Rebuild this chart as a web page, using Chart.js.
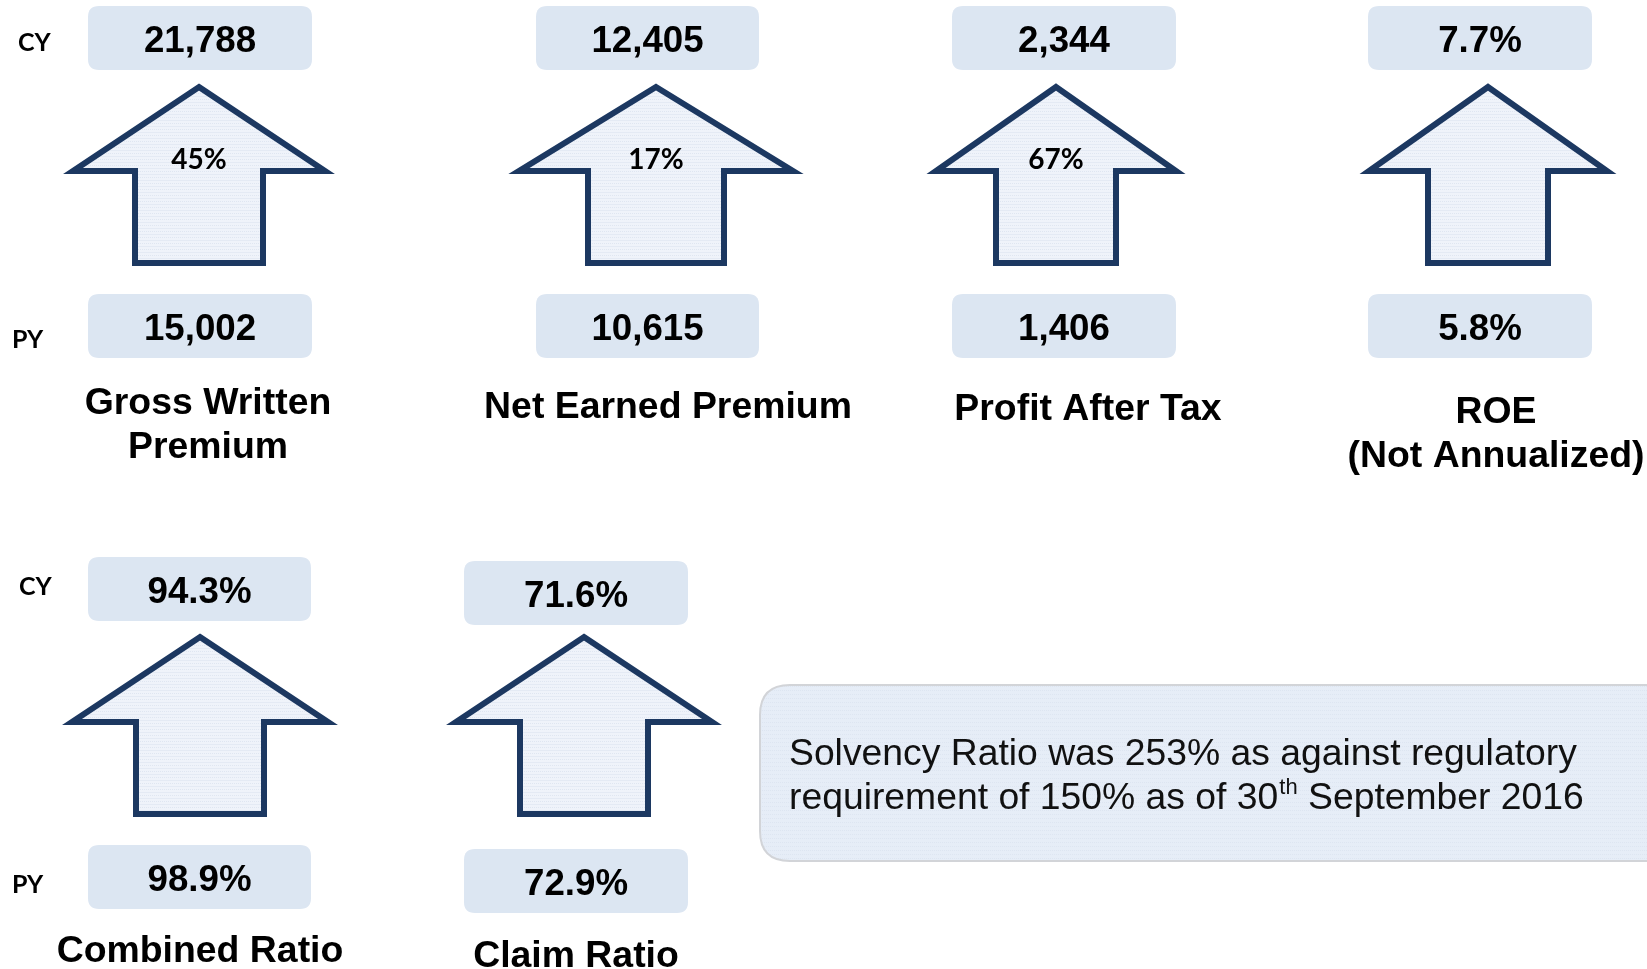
<!DOCTYPE html>
<html><head><meta charset="utf-8">
<script src="https://cdn.jsdelivr.net/npm/chart.js@4/dist/chart.umd.min.js"></script>
<style>html,body{margin:0;padding:0;background:#fff;overflow:hidden}#wrap{width:1647px;height:969px;position:relative}</style>
</head><body><div id="wrap"><canvas id="c" width="1647" height="969"></canvas></div>
<script>
// ---------- DATA ----------
const metrics = ['Gross Written Premium','Net Earned Premium','Profit After Tax','ROE (Not Annualized)','Combined Ratio','Claim Ratio'];
const labelLines = [['Gross Written','Premium'],['Net Earned Premium'],['Profit After Tax'],['ROE','(Not Annualized)'],['Combined Ratio'],['Claim Ratio']];
const cyValues = ['21,788','12,405','2,344','7.7%','94.3%','71.6%'];
const pyValues = ['15,002','10,615','1,406','5.8%','98.9%','72.9%'];
const growthLabels = ['45%','17%','67%','','',''];
const rowLabels = ['CY','PY'];
const noteLine1 = 'Solvency Ratio was 253% as against regulatory';
const noteLine2 = ['requirement of 150% as of 30','th',' September 2016'];

// ---------- LAYOUT (positions/sizes only, in slide units) ----------
const tileLayout = [
  {boxL:88, boxR:312, cyTop:6,   pyTop:294, ax:199, tip:87,  wing:171, bot:263, wh:126, sh:64, pctY:160, lx:208, ly:[404,448], lf:[37.4,37.4]},
  {boxL:536,boxR:759, cyTop:6,   pyTop:294, ax:656, tip:87,  wing:171, bot:263, wh:137, sh:68, pctY:160, lx:668, ly:[408], lf:[37.4]},
  {boxL:952,boxR:1176,cyTop:6,   pyTop:294, ax:1056,tip:87,  wing:171, bot:263, wh:120, sh:60, pctY:160, lx:1088,ly:[410], lf:[37.4]},
  {boxL:1368,boxR:1592,cyTop:6,  pyTop:294, ax:1488,tip:87,  wing:171, bot:263, wh:119, sh:60, pctY:160, lx:1496,ly:[413,457], lf:[37.4,37.4]},
  {boxL:88, boxR:311, cyTop:557, pyTop:845, ax:200, tip:637, wing:722, bot:814, wh:128, sh:64, pctY:710, lx:200, ly:[952], lf:[37.4]},
  {boxL:464,boxR:688, cyTop:561, pyTop:849, ax:584, tip:637, wing:722, bot:814, wh:128, sh:64, pctY:710, lx:576, ly:[957], lf:[37.4]}
];
const rowLabelLayout = [
  {text:0, x:18, y:43},{text:1, x:12, y:340},{text:0, x:19, y:587},{text:1, x:12, y:885}
];
const boxH = 64;
const noteLayout = {l:760, t:685, r:1690, b:861, tx:789, b1:765, b2:809};

// ---------- STYLE ----------
const NAVY = '#1c3861';
const BOXFILL = '#dce6f2';
function makePattern(ctx, base, dot, line, w, h){
  const c = document.createElement('canvas'); c.width=w; c.height=h;
  const g = c.getContext('2d');
  g.fillStyle = base; g.fillRect(0,0,w,h);
  if (line){ g.fillStyle=line; g.fillRect(0,0,w,1); }
  g.fillStyle = dot;
  for (let i=0;i<w;i+=2){ g.fillRect(i,Math.floor(h/2),1,1); }
  return ctx.createPattern(c,'repeat');
}
function rr(ctx,x,y,w,h,r){
  ctx.beginPath();
  ctx.moveTo(x+r,y); ctx.lineTo(x+w-r,y); ctx.quadraticCurveTo(x+w,y,x+w,y+r);
  ctx.lineTo(x+w,y+h-r); ctx.quadraticCurveTo(x+w,y+h,x+w-r,y+h);
  ctx.lineTo(x+r,y+h); ctx.quadraticCurveTo(x,y+h,x,y+h-r);
  ctx.lineTo(x,y+r); ctx.quadraticCurveTo(x,y,x+r,y); ctx.closePath();
}

const infographic = {
  id:'infographic',
  afterDatasetsDraw(chart){
    const ctx = chart.ctx;
    const xs = chart.scales.x, ys = chart.scales.y;
    const X = v => xs.getPixelForValue(v), Y = v => ys.getPixelForValue(v);
    const arrowPat = makePattern(ctx,'#eff3fa','#dfe6f1','#e4eaf4',4,6);
    const notePat = makePattern(ctx,'#e6edf7','#dde5f1',null,4,4);
    ctx.save();
    // note box
    const n = noteLayout;
    rr(ctx, X(n.l), Y(n.t), X(n.r)-X(n.l), Y(n.b)-Y(n.t), 30);
    ctx.fillStyle = notePat; ctx.fill();
    ctx.lineWidth = 2; ctx.strokeStyle = '#d2d4d8'; ctx.stroke();
    ctx.fillStyle = '#111'; ctx.textAlign='left'; ctx.textBaseline='alphabetic';
    const NF = '37.3px "Liberation Sans", Arial, sans-serif';
    ctx.font = NF;
    ctx.fillText(noteLine1, X(n.tx), Y(n.b1));
    let px = X(n.tx);
    ctx.fillText(noteLine2[0], px, Y(n.b2)); px += ctx.measureText(noteLine2[0]).width;
    ctx.font = '22px "Liberation Sans", Arial, sans-serif';
    ctx.fillText(noteLine2[1], px+1, Y(n.b2)-15); px += ctx.measureText(noteLine2[1]).width+1;
    ctx.font = NF;
    ctx.fillText(noteLine2[2], px, Y(n.b2));

    // tiles
    metrics.forEach((m,i)=>{
      const L = tileLayout[i];
      // boxes
      [[L.cyTop, cyValues[i]],[L.pyTop, pyValues[i]]].forEach(([top,val])=>{
        rr(ctx, X(L.boxL), Y(top), X(L.boxR)-X(L.boxL), Y(top+boxH)-Y(top), 11);
        ctx.fillStyle = BOXFILL; ctx.fill();
        ctx.fillStyle = '#000'; ctx.textAlign='center'; ctx.textBaseline='middle';
        ctx.font = 'bold 36.7px "Liberation Sans", Arial, sans-serif';
        ctx.fillText(val, X((L.boxL+L.boxR)/2), Y(top+boxH/2)+4);
      });
      // arrow
      ctx.beginPath();
      ctx.moveTo(X(L.ax), Y(L.tip));
      ctx.lineTo(X(L.ax+L.wh), Y(L.wing));
      ctx.lineTo(X(L.ax+L.sh), Y(L.wing));
      ctx.lineTo(X(L.ax+L.sh), Y(L.bot));
      ctx.lineTo(X(L.ax-L.sh), Y(L.bot));
      ctx.lineTo(X(L.ax-L.sh), Y(L.wing));
      ctx.lineTo(X(L.ax-L.wh), Y(L.wing));
      ctx.closePath();
      ctx.fillStyle = arrowPat; ctx.fill();
      ctx.lineWidth = 6; ctx.lineJoin='miter'; ctx.miterLimit=10; ctx.strokeStyle = NAVY; ctx.stroke();
      if (growthLabels[i]){
        ctx.fillStyle='#000'; ctx.textAlign='center'; ctx.textBaseline='middle';
        ctx.font = 'bold 28px Lato, "Open Sans", sans-serif';
        ctx.fillText(growthLabels[i], X(L.ax), Y(L.pctY));
      }
      // label
      labelLines[i].forEach((t,k)=>{
        ctx.fillStyle='#000'; ctx.textAlign='center'; ctx.textBaseline='middle';
        ctx.font = 'bold '+L.lf[k]+'px "Liberation Sans", Arial, sans-serif';
        ctx.fillText(t, X(L.lx), Y(L.ly[k]));
      });
    });
    // row labels
    rowLabelLayout.forEach(r=>{
      ctx.fillStyle='#000'; ctx.textAlign='left'; ctx.textBaseline='middle';
      ctx.font = 'bold 25px Lato, "Open Sans", sans-serif';
      ctx.fillText(rowLabels[r.text], X(r.x), Y(r.y));
    });
    ctx.restore();
  }
};

new Chart(document.getElementById('c'), {
  type:'scatter',
  data:{ datasets:[{ data:[], pointRadius:0 }] },
  options:{
    responsive:false, animation:false,
    layout:{padding:0},
    plugins:{legend:{display:false}, tooltip:{enabled:false}},
    scales:{
      x:{type:'linear', min:0, max:1647, display:false},
      y:{type:'linear', min:0, max:969, reverse:true, display:false}
    }
  },
  plugins:[infographic]
});
</script></body></html>
